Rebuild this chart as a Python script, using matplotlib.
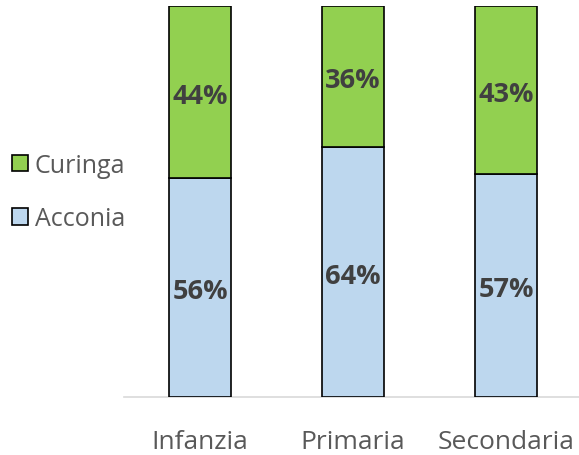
import matplotlib.pyplot as plt
from matplotlib.patches import Patch

categories = ["Infanzia", "Primaria", "Secondaria"]
acconia = [56, 64, 57]
curinga = [44, 36, 43]

blue = "#BDD7EE"
green = "#92D050"
label_color = "#404040"
tick_color = "#595959"
font = "Open Sans"

fig = plt.figure(figsize=(5.79, 4.56), dpi=100)
ax = fig.add_axes([123.5 / 579, 58 / 456, (579 - 123.5) / 579, 391 / 456])

x = list(range(len(categories)))
w = 0.405
ax.bar(x, acconia, width=w, color=blue, edgecolor="black", linewidth=1.2, zorder=3)
ax.bar(x, curinga, width=w, bottom=acconia, color=green, edgecolor="black",
       linewidth=1.2, zorder=3)

for i in x:
    ax.text(i, acconia[i] / 2 - 1.0, f"{acconia[i]}%", ha="center", va="center",
            fontsize=19.5, fontweight="bold", color=label_color, family=font, zorder=4)
    ax.text(i, acconia[i] + curinga[i] / 2 - 1.0, f"{curinga[i]}%", ha="center",
            va="center", fontsize=19.5, fontweight="bold", color=label_color,
            family=font, zorder=4)

ax.set_xlim(-0.5, (579 - 200) / 153)
ax.set_ylim(0, 100)
ax.set_yticks([])
ax.set_xticks(x)
ax.set_xticklabels(categories, fontsize=19, color=tick_color, family=font)
ax.tick_params(axis="x", length=0, pad=23)
for s in ["top", "right", "left"]:
    ax.spines[s].set_visible(False)
ax.spines["bottom"].set_color("#D9D9D9")
ax.spines["bottom"].set_linewidth(1.2)

handles = [Patch(facecolor=green, edgecolor="black", linewidth=1.2),
           Patch(facecolor=blue, edgecolor="black", linewidth=1.2)]
fig.legend(handles, ["Curinga", "Acconia"], loc="center left",
           bbox_to_anchor=(0.021, 1 - 193 / 456), frameon=False,
           prop={"family": font, "size": 18}, labelcolor=tick_color,
           handlelength=0.65, handleheight=0.65, handletextpad=0.25,
           labelspacing=1.15, borderaxespad=0, borderpad=0)

fig.savefig("out.png", dpi=100)
